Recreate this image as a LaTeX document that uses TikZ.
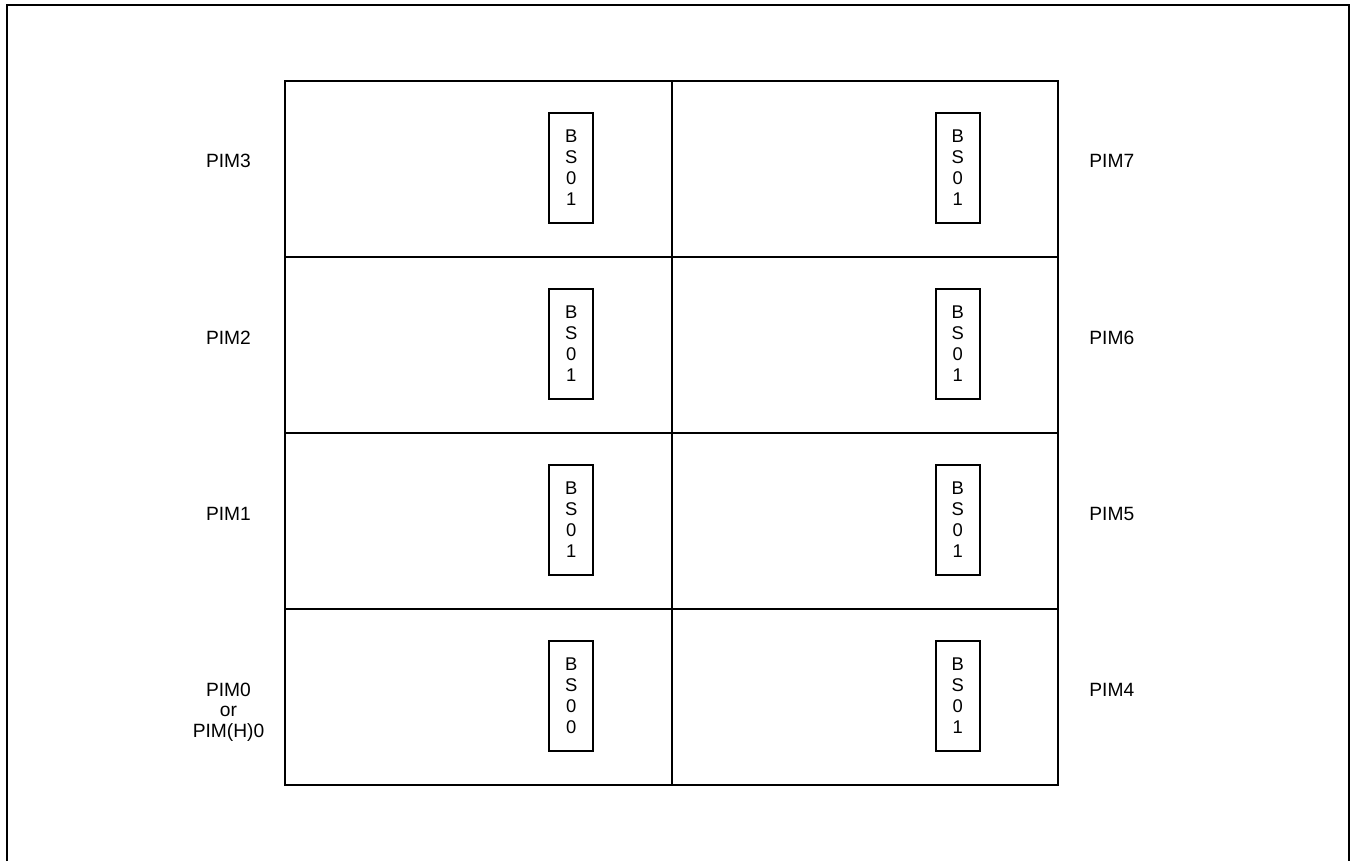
\documentclass[tikz,border=0pt]{standalone}
\usepackage{fontspec}
\setmainfont{Liberation Sans}
\usetikzlibrary{positioning}
\tikzset{
  cell/.style={draw, line width=1pt, minimum width=193.25pt, minimum height=88pt, inner sep=0pt},
  bsbox/.style={draw, line width=1pt, minimum width=22pt, minimum height=55pt, inner sep=0pt,
    align=center, font=\fontsize{9.2}{10.5}\selectfont},
  pimlabel/.style={align=center, inner sep=0pt, anchor=base, font=\fontsize{9.6}{10.25}\selectfont}
}
\begin{document}
\begin{tikzpicture}[x=0.5pt, y=-0.5pt]
  \useasboundingbox (0,0) rectangle (1352,861);
  \draw[line width=1pt] (7,861) -- (7,5) -- (1349,5) -- (1349,861);
  % rows from top to bottom; \ls drops a label whose base is its last line
  \foreach \r/\ln/\ls/\rn/\lb/\rb in {0/PIM3/0/PIM7/1/1, 1/PIM2/0/PIM6/1/1, 2/PIM1/0/PIM5/1/1,
      3/{PIM0\\or\\PIM(H)0}/20.5/PIM4/0/1} {
    \node[cell] (left\r) at (478.25,169+176*\r) {};
    \node[cell] (right\r) at (864.75,169+176*\r) {};
    \node[bsbox] (bsl\r) at ([xshift=46.5pt,yshift=0.5pt]left\r.center) {B\\S\\0\\\lb};
    \node[bsbox] (bsr\r) at ([xshift=46.5pt,yshift=0.5pt]right\r.center) {B\\S\\0\\\rb};
    \node[pimlabel] (pl\r) at ([xshift=-27.75pt,yshift=0.5pt-\ls pt]left\r.west) {\ln};
    \node[pimlabel, anchor=base west] (pr\r) at ([xshift=15pt,yshift=0.5pt]right\r.east) {\rn};
  }
\end{tikzpicture}
\end{document}
